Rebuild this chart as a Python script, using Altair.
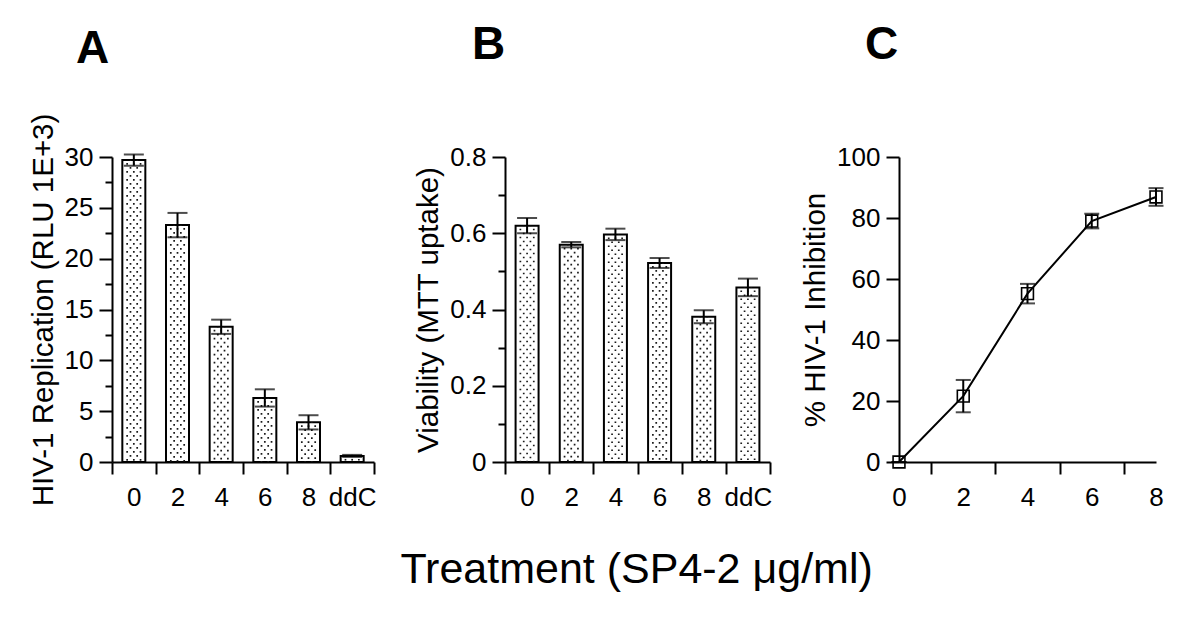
import altair as alt
import pandas as pd

# ---- data ----
categories = ["0", "2", "4", "6", "8", "ddC"]
replication = [29.7, 23.3, 13.3, 6.3, 3.9, 0.6]
replication_err = [0.55, 1.2, 0.7, 0.85, 0.7, 0.1]
viability = [0.62, 0.57, 0.597, 0.522, 0.381, 0.458]
viability_err = [0.02, 0.007, 0.015, 0.013, 0.017, 0.023]
doses = [0, 2, 4, 6, 8]
inhibition = [0, 21.6, 55.2, 79.0, 86.9]
inhibition_err = [0, 5.3, 3.2, 2.4, 2.9]

FONT = "Liberation Sans"
H = 305


def letter(txt, dx, offset):
    return alt.TitleParams(txt, anchor="start", frame="group", dx=dx, offset=offset,
                           fontSize=46, font=FONT, fontWeight="bold", color="black")


def bar_panel(values, errs, ymax, minor, ytitle, width, ttl, fmt):
    df = pd.DataFrame({"cat": categories, "v": values, "e": errs})
    df["lo"] = df["v"] - df["e"]
    df["hi"] = df["v"] + df["e"]
    n = int(round(ymax / minor))
    tick_vals = [round(i * minor, 4) for i in range(n + 1)]
    major = f"round(datum.value / {minor}) % 2 === 0"
    yaxis = alt.Axis(values=tick_vals, labelExpr=f"{major} ? datum.label : ''", format=fmt,
                     labelOverlap=False, labelPadding=6, titlePadding=6,
                     tickSize={"condition": {"test": major, "value": 13}, "value": 7})
    yscale = alt.Scale(domain=[0, ymax], nice=False, zero=True)
    xaxis = alt.Axis(labelAngle=0, tickBand="extent", tickSize=12, labelPadding=10)
    xscale = alt.Scale(paddingInner=0, paddingOuter=0)
    X = alt.X("cat:N", sort=categories, title=None, axis=xaxis, scale=xscale)

    def Y(field):
        return alt.Y(field, type="quantitative", title=ytitle, axis=yaxis, scale=yscale)

    base = alt.Chart(df)
    bars = base.mark_bar(size=23, fill="white", stroke="black", strokeWidth=2).encode(x=X, y=Y("v"))
    layers = [bars]
    for dx, off in [(-6.7, 5), (0, 5), (6.7, 5), (-3.35, 1), (3.35, 1)]:
        layers.append(base.mark_rule(xOffset=dx, strokeDash=[1.7, 6.3], strokeDashOffset=off,
                                     strokeWidth=1.7, color="#1a1a1a").encode(
            x=X, y=Y("v"), y2=alt.datum(0)))
    err_rule = base.mark_rule(color="black", strokeWidth=2).encode(x=X, y=Y("lo"), y2="hi:Q")
    caps = base.transform_fold(["lo", "hi"], as_=["k", "ev"]).mark_tick(
        orient="horizontal", size=20, thickness=2, color="black").encode(x=X, y=Y("ev"))
    layers += [err_rule, caps]
    return alt.layer(*layers).properties(width=width, height=H, title=ttl)


panel_a = bar_panel(replication, replication_err, 30, 2.5, "HIV-1 Replication (RLU 1E+3)", 262,
                    letter("A", -36, 40), "d")
panel_b = bar_panel(viability, viability_err, 0.8, 0.1, "Viability (MTT uptake)", 265,
                    letter("B", -33, 75), ".1~f")

dfc = pd.DataFrame({"dose": doses, "inh": inhibition, "e": inhibition_err})
dfc["lo"] = dfc["inh"] - dfc["e"]
dfc["hi"] = dfc["inh"] + dfc["e"]
cx = alt.X("dose:Q", title=None, scale=alt.Scale(domain=[0, 8], nice=False),
           axis=alt.Axis(values=list(range(9)), labelExpr="datum.value % 2 === 0 ? datum.label : ''",
                         labelOverlap=False, labelFlush=False, tickSize=12, labelPadding=10,
                         tickColor={"condition": {"test": "datum.value % 2 === 1", "value": "black"},
                                    "value": "transparent"}))
cyaxis = alt.Axis(values=[0, 20, 40, 60, 80, 100], tickSize=13, labelPadding=6, titlePadding=6)
cyscale = alt.Scale(domain=[0, 100], nice=False)


def CY(field):
    return alt.Y(field, type="quantitative", title="% HIV-1 Inhibition", axis=cyaxis, scale=cyscale)


cbase = alt.Chart(dfc)
c_line = cbase.mark_line(color="black", strokeWidth=2).encode(x=cx, y=CY("inh"))
c_pts = cbase.mark_point(shape="square", size=140, filled=False, stroke="black",
                         strokeWidth=1.6, opacity=1).encode(x=cx, y=CY("inh"))
c_err = cbase.mark_rule(color="black", strokeWidth=2).encode(x=cx, y=CY("lo"), y2="hi:Q")
c_caps = cbase.transform_fold(["lo", "hi"], as_=["k", "ev"]).mark_tick(
    orient="horizontal", size=15, thickness=2, color="black").encode(x=cx, y=CY("ev"))
panel_c = alt.layer(c_line, c_pts, c_err, c_caps).properties(
    width=257, height=H, title=letter("C", -34, 75))

chart = alt.hconcat(alt.hconcat(panel_a, panel_b, spacing=36), panel_c, spacing=28).properties(
    title=alt.TitleParams("Treatment (SP4-2 μg/ml)", orient="bottom", anchor="middle",
                          fontSize=43, font=FONT, fontWeight="normal", color="black",
                          offset=39, dx=40),
    padding={"left": 20, "top": 14, "right": 5, "bottom": 5},
    background="white",
).configure_axis(
    domainColor="black", domainWidth=2, tickColor="black", tickWidth=2,
    labelFont=FONT, labelFontSize=26, labelColor="black",
    titleFont=FONT, titleFontSize=29.5, titleFontWeight="normal", titleColor="black",
    grid=False,
).configure_view(stroke=None)

chart.save("out.html", embed_options={"renderer": "svg", "actions": False})
